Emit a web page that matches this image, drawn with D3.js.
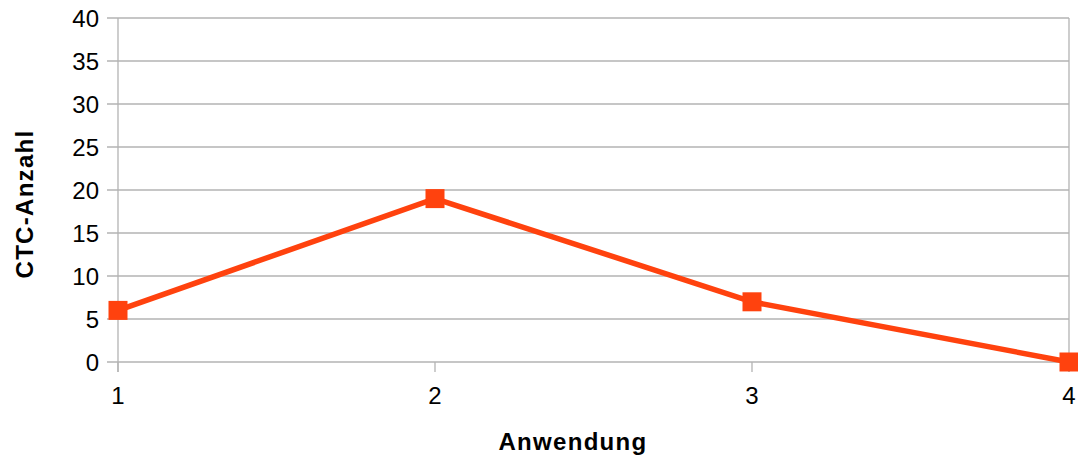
<!DOCTYPE html>
<html><head><meta charset="utf-8">
<script src="https://cdn.jsdelivr.net/npm/d3@7"></script>
<style>
html,body{margin:0;padding:0;background:#fff;}
text{font-family:"Liberation Sans",Arial,sans-serif;}
</style></head>
<body>
<svg id="c" width="1078" height="459"></svg>
<script>
const categories = [1, 2, 3, 4];
const values = [6, 19, 7, 0];
const yTicks = [0, 5, 10, 15, 20, 25, 30, 35, 40];
const xTitle = "Anwendung";
const yTitle = "CTC-Anzahl";

const svg = d3.select("#c");
const L = 118, R = 1069, T = 18, B = 362;
const x = d3.scaleLinear().domain([1, 4]).range([L, R]);
const y = d3.scaleLinear().domain([0, 40]).range([B, T]);
const grid = "#b3b3b3";

svg.append("g").selectAll("line").data(yTicks).join("line")
  .attr("x1", L - 11).attr("x2", R)
  .attr("y1", d => y(d)).attr("y2", d => y(d))
  .attr("stroke", grid).attr("stroke-width", 1.3);
svg.append("line").attr("x1", L).attr("x2", L).attr("y1", T).attr("y2", B + 10)
  .attr("stroke", grid).attr("stroke-width", 1.3);
svg.append("line").attr("x1", R).attr("x2", R).attr("y1", T).attr("y2", B + 10)
  .attr("stroke", grid).attr("stroke-width", 1.3);
svg.append("g").selectAll("line").data(categories).join("line")
  .attr("x1", d => x(d)).attr("x2", d => x(d)).attr("y1", B).attr("y2", B + 10)
  .attr("stroke", grid).attr("stroke-width", 1.3);

svg.append("g").selectAll("text").data(yTicks).join("text")
  .attr("x", 99).attr("y", d => y(d)).attr("dy", "0.36em")
  .attr("text-anchor", "end").attr("font-size", 24).attr("fill", "#000")
  .text(d => d);
svg.append("g").selectAll("text").data(categories).join("text")
  .attr("x", d => x(d)).attr("y", 404)
  .attr("text-anchor", "middle").attr("font-size", 24).attr("fill", "#000")
  .text(d => d);

svg.append("text").attr("x", 573).attr("y", 450).attr("text-anchor", "middle")
  .attr("font-size", 24).attr("font-weight", "bold").attr("letter-spacing", 1.3).text(xTitle);
svg.append("text").attr("transform", "translate(33,204) rotate(-90)")
  .attr("text-anchor", "middle").attr("font-size", 24).attr("font-weight", "bold")
  .attr("letter-spacing", 1.3).text(yTitle);

const color = "#ff420e";
const line = d3.line().x((d, i) => x(categories[i])).y(d => y(d));
svg.append("path").datum(values).attr("d", line)
  .attr("fill", "none").attr("stroke", color).attr("stroke-width", 5.5)
  .attr("stroke-linejoin", "miter");
const ms = 19;
svg.append("g").selectAll("rect").data(values).join("rect")
  .attr("x", (d, i) => x(categories[i]) - ms / 2)
  .attr("y", d => y(d) - ms / 2)
  .attr("width", ms).attr("height", ms).attr("fill", color);
</script>
</body></html>
